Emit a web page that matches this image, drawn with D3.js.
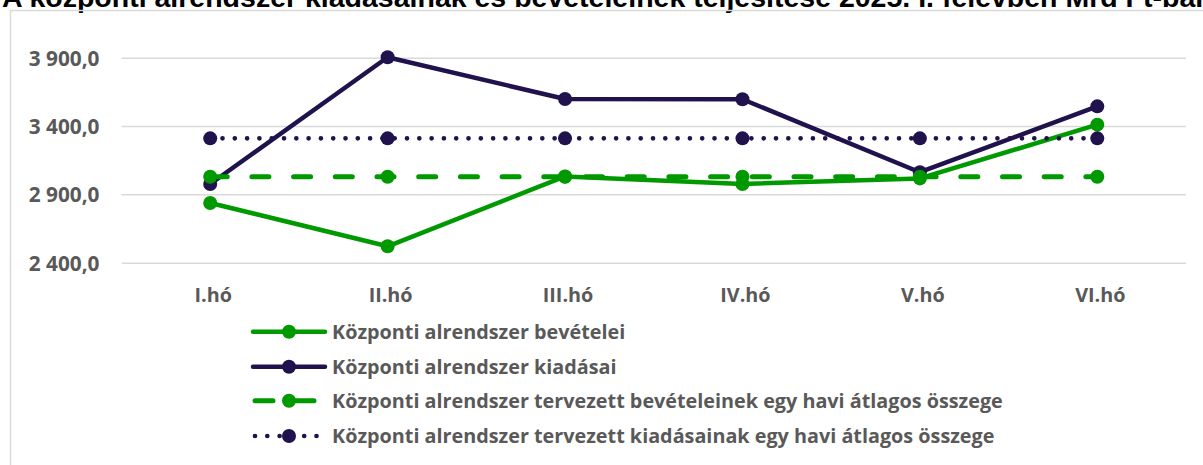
<!DOCTYPE html>
<html>
<head>
<meta charset="utf-8">
<script src="https://cdn.jsdelivr.net/npm/d3@7"></script>
<style>
  body { margin: 0; background: #fff; }
  svg { display: block; }
  text { font-family: "Open Sans", Lato, sans-serif; font-weight: bold; }
  text.title { font-family: "Liberation Sans", Arial, sans-serif; }
</style>
</head>
<body>
<svg class="chart"></svg>
<script>
var title = "A központi alrendszer kiadásainak és bevételeinek teljesítése 2025. I. félévben Mrd Ft-ban";
var months = ["I.hó", "II.hó", "III.hó", "IV.hó", "V.hó", "VI.hó"];
var bevetelek = [2837, 2520, 3031, 2976, 3017, 3410];
var kiadasok = [2976, 3903, 3598, 3596, 3062, 3544];
var tervBevetel = [3029, 3029, 3029, 3029, 3029, 3029];
var tervKiadas = [3310, 3310, 3310, 3310, 3310, 3310];
var yTicks = [2400, 2900, 3400, 3900];
var seriesNames = [
  "Központi alrendszer bevételei",
  "Központi alrendszer kiadásai",
  "Központi alrendszer tervezett bevételeinek egy havi átlagos összege",
  "Központi alrendszer tervezett kiadásainak egy havi átlagos összege"
];

var green = "#009900", navy = "#20124d", grey = "#595959", grid = "#d9d9d9";

var series = [
  {name: seriesNames[0], values: bevetelek, color: green, width: 4.5, dash: null},
  {name: seriesNames[1], values: kiadasok, color: navy, width: 4.5, dash: null},
  {name: seriesNames[2], values: tervBevetel, color: green, width: 5, dash: "17,24.7"},
  {name: seriesNames[3], values: tervKiadas, color: navy, width: 4.7, dash: "0,12.3"}
];

var W = 1203, H = 465;
var svg = d3.select(".chart").attr("width", W).attr("height", H);

// title sits mostly above the picture, only its lower part shows
svg.append("text")
    .attr("class", "title")
    .attr("x", 2)
    .attr("y", 6.5)
    .attr("fill", "#000")
    .style("font-size", "28.5px")
    .text(title);

svg.append("rect")
    .attr("x", 10.5)
    .attr("y", 10.5)
    .attr("width", 1400)
    .attr("height", 600)
    .attr("fill", "none")
    .attr("stroke", grid)
    .attr("stroke-width", 1.5);

var x = d3.scaleBand()
    .domain(months)
    .range([121.5, 1186]);

var y = d3.scaleLinear()
    .domain([2400, 3900])
    .range([262.7, 57.7]);

var yAxis = d3.axisLeft(y)
    .tickValues(yTicks)
    .tickSize(-(1186 - 121.5))
    .tickPadding(22)
    .tickFormat(function(d) { return d3.format(",.1f")(d).replace(",", " ").replace(".", ","); });

var gy = svg.append("g")
    .attr("transform", "translate(121.5,0)")
    .call(yAxis);
gy.select(".domain").remove();
gy.selectAll(".tick line").attr("stroke", grid).attr("stroke-width", 1.5);
gy.selectAll(".tick text")
    .attr("fill", grey)
    .style("font-size", "20.8px")
    .attr("dy", "0.36em");

var xAxis = d3.axisBottom(x).tickSize(0).tickPadding(0);
var gx = svg.append("g")
    .attr("transform", "translate(0,301.5)")
    .call(xAxis);
gx.select(".domain").remove();
gx.selectAll(".tick text")
    .attr("fill", grey)
    .style("font-size", "19.8px")
    .attr("dx", 3)
    .attr("dy", 0);

var line = d3.line()
    .x(function(d, i) { return x(months[i]) + x.bandwidth() / 2; })
    .y(function(d) { return y(d); });

series.forEach(function(s) {
  var g = svg.append("g");
  g.append("path")
      .datum(s.values)
      .attr("d", line)
      .attr("fill", "none")
      .attr("stroke", s.color)
      .attr("stroke-width", s.width)
      .attr("stroke-linecap", "round")
      .attr("stroke-linejoin", "round")
      .attr("stroke-dasharray", s.dash);
  g.selectAll("circle")
      .data(s.values)
    .enter().append("circle")
      .attr("cx", function(d, i) { return x(months[i]) + x.bandwidth() / 2; })
      .attr("cy", function(d) { return y(d); })
      .attr("r", 7)
      .attr("fill", s.color);
});

// legend
var legend = svg.append("g").attr("transform", "translate(253,0)");
var rowY = [331.7, 366.7, 400.7, 436];
series.forEach(function(s, i) {
  var row = legend.append("g").attr("transform", "translate(0," + rowY[i] + ")");
  row.append("line")
      .attr("x1", s.dash ? 2 : 0)
      .attr("x2", s.dash ? 66 : 72)
      .attr("stroke", s.color)
      .attr("stroke-width", s.width)
      .attr("stroke-linecap", "round")
      .attr("stroke-dasharray", s.dash ? (i == 2 ? "18,23" : "0,12.3") : null);
  row.append("circle")
      .attr("cx", 36)
      .attr("r", 7)
      .attr("fill", s.color);
  row.append("text")
      .attr("x", 79)
      .attr("dy", "0.36em")
      .attr("fill", grey)
      .style("font-size", "19.8px")
      .text(s.name);
});
</script>
</body>
</html>
